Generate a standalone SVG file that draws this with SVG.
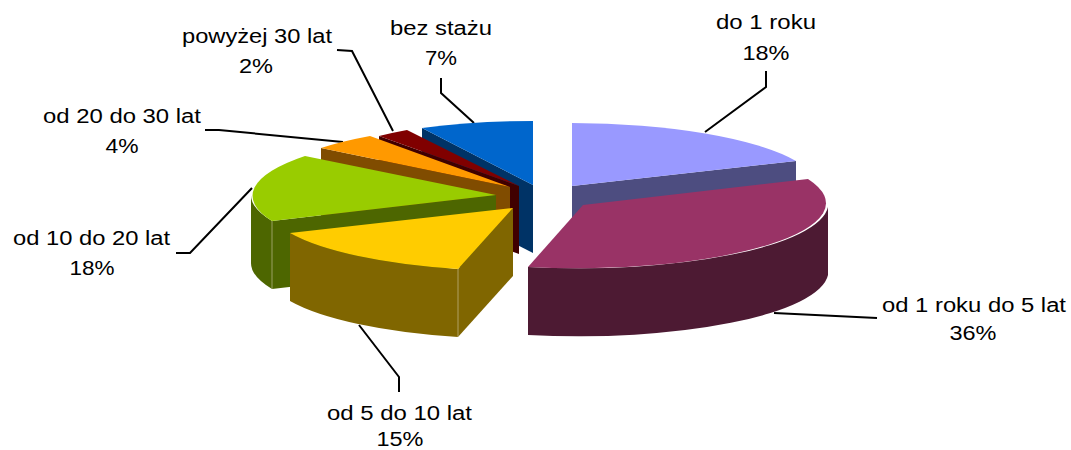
<svg xmlns="http://www.w3.org/2000/svg" width="1071" height="450" viewBox="0 0 1071 450">
<style>
.lbl{font-family:"Liberation Sans",Arial,sans-serif;font-size:20px;fill:#000;text-anchor:middle}
.ld{fill:none;stroke:#000;stroke-width:2}
.edge{stroke:#d8d0b0;stroke-width:0.8;stroke-opacity:0.7}
</style>
<rect width="1071" height="450" fill="#fff"/>
<g id="connectors">
<path class="ld" d="M766,71 L766,87 L705,132"/>
<path class="ld" d="M774,313 L877,318"/>
<path class="ld" d="M359,325 L399,377 L399,392"/>
<path class="ld" d="M176,253 L190,253 L252,188"/>
<path class="ld" d="M205,130 L219,130 L343,142"/>
<path class="ld" d="M337,50 L352,51 L393,131"/>
<path class="ld" d="M441,78 L441,93 L474,123"/>
</g>
<g id="slice-bez-stazu">
<path d="M422,128 L533,185 L533,253 L422,196 Z" fill="#003366"/>
<path d="M533,185 L422,128 A250,65 0 0 1 533,121 Z" fill="#0066CC"/>
<text class="lbl" x="441" y="35" textLength="102" lengthAdjust="spacingAndGlyphs">bez stażu</text>
<text class="lbl" x="441" y="65" textLength="32" lengthAdjust="spacingAndGlyphs">7%</text>
</g>
<g id="slice-powyzej-30">
<path d="M379,136 L519,186 L519,254 L379,204 Z" fill="#400000"/>
<path d="M519,186 L379,136 A250,65 0 0 1 407,130 Z" fill="#800000"/>
<text class="lbl" x="257" y="43" textLength="150" lengthAdjust="spacingAndGlyphs">powyżej 30 lat</text>
<text class="lbl" x="256" y="73" textLength="34" lengthAdjust="spacingAndGlyphs">2%</text>
</g>
<g id="slice-20-30">
<path d="M321,148 L510,187 L510,255 L321,216 Z" fill="#804C00"/>
<path d="M510,187 L321,148 A250,65 0 0 1 370,136 Z" fill="#FF9900"/>
<text class="lbl" x="122" y="123" textLength="158" lengthAdjust="spacingAndGlyphs">od 20 do 30 lat</text>
<text class="lbl" x="122" y="153" textLength="33" lengthAdjust="spacingAndGlyphs">4%</text>
</g>
<g id="slice-10-20">
<path d="M251,194 A250,65 0 0 0 272,221 L272,289 A250,65 0 0 1 251,262 Z" fill="#4D6600"/>
<path d="M272,221 L496,195 L496,263 L272,289 Z" fill="#4D6600"/>
<line class="edge" x1="272" y1="221" x2="272" y2="289"/>
<path d="M496,195 L272,221 A250,65 0 0 1 305,156 Z" fill="#99CC00"/>
<text class="lbl" x="91.5" y="245" textLength="157" lengthAdjust="spacingAndGlyphs">od 10 do 20 lat</text>
<text class="lbl" x="92" y="275" textLength="45" lengthAdjust="spacingAndGlyphs">18%</text>
</g>
<g id="slice-5-10">
<path d="M290,233 A250,65 0 0 0 458,269 L458,337 A250,65 0 0 1 290,301 Z" fill="#806600"/>
<path d="M458,269 L513,208 L513,276 L458,337 Z" fill="#806600"/>
<line class="edge" x1="458" y1="269" x2="458" y2="337"/>
<path d="M513,208 L290,233 A250,65 0 0 0 458,269 Z" fill="#FFCC00"/>
<text class="lbl" x="399.5" y="420" textLength="145" lengthAdjust="spacingAndGlyphs">od 5 do 10 lat</text>
<text class="lbl" x="400" y="446" textLength="47" lengthAdjust="spacingAndGlyphs">15%</text>
</g>
<g id="slice-do-1-roku">
<path d="M572,186 L796,161 L796,229 L572,254 Z" fill="#4D4D80"/>
<path d="M572,186 L572,123 A250,65 0 0 1 796,161 Z" fill="#9999FF"/>
<text class="lbl" x="766" y="29" textLength="100" lengthAdjust="spacingAndGlyphs">do 1 roku</text>
<text class="lbl" x="766" y="60" textLength="47" lengthAdjust="spacingAndGlyphs">18%</text>
</g>
<g id="slice-1-5">
<path d="M828,207 A250,65 0 0 1 528,267 L528,335 A250,65 0 0 0 828,275 Z" fill="#4D1A33"/>
<path d="M583,205 L808,179 A250,65 0 0 1 528,267 Z" fill="#993366"/>
<text class="lbl" x="974" y="312" textLength="184" lengthAdjust="spacingAndGlyphs">od 1 roku do 5 lat</text>
<text class="lbl" x="973" y="340" textLength="47" lengthAdjust="spacingAndGlyphs">36%</text>
</g>
</svg>
